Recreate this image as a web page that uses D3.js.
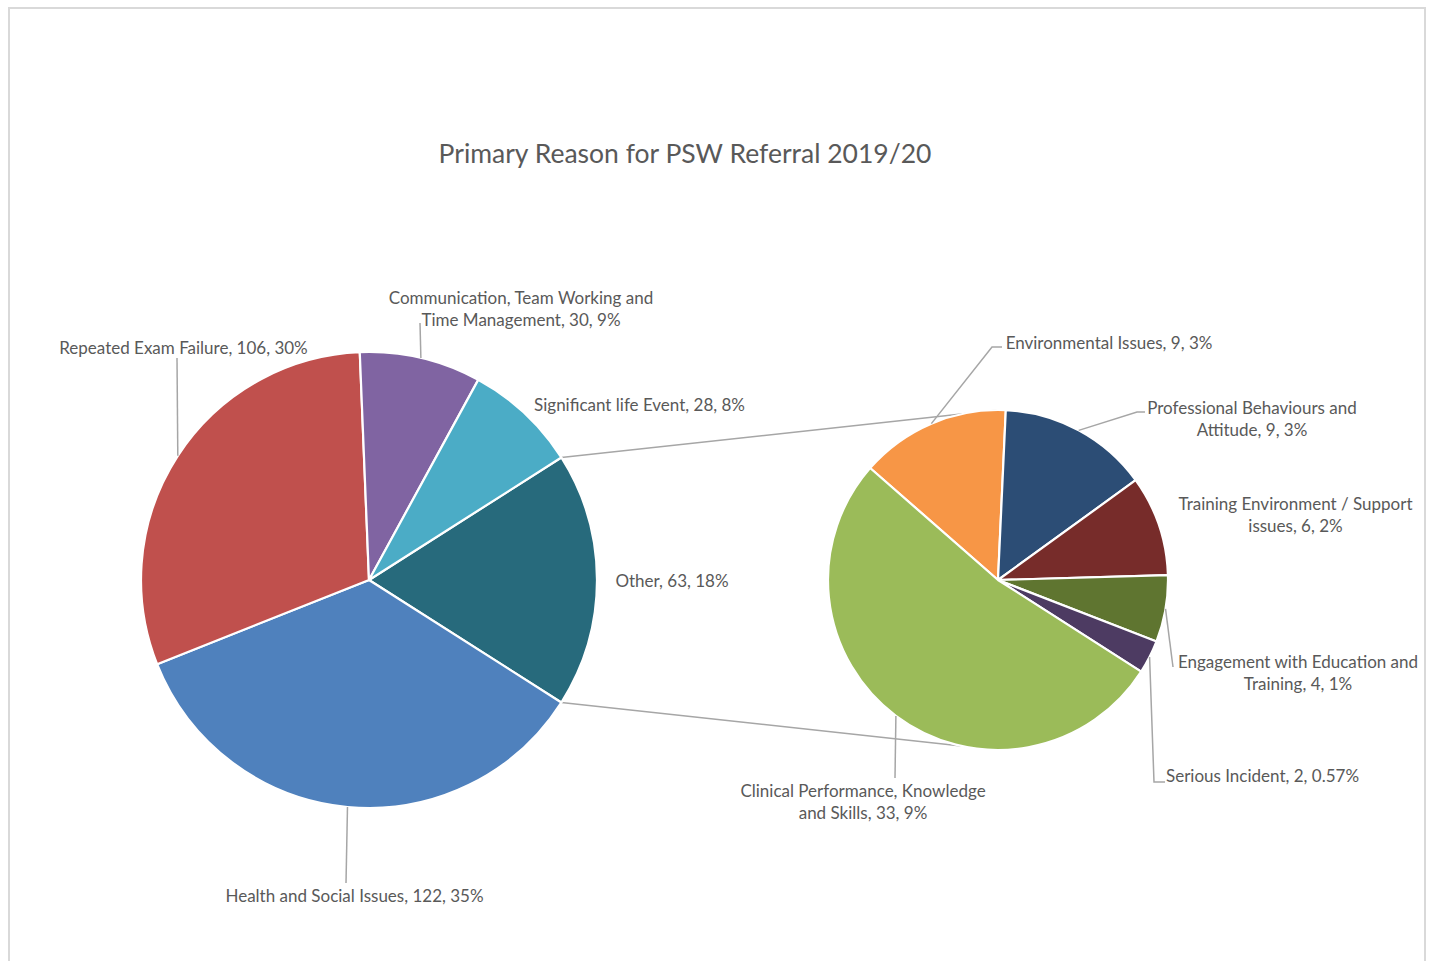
<!DOCTYPE html>
<html>
<head>
<meta charset="utf-8">
<script src="https://cdn.jsdelivr.net/npm/d3@7"></script>
<style>
  body { margin: 0; background: #fff; }
  svg text { font-family: Lato, "Open Sans", sans-serif; fill: #595959; }
</style>
</head>
<body>
<svg id="chart" width="1431" height="961"></svg>
<script>
// ---- data ----
const title = "Primary Reason for PSW Referral 2019/20";

// Primary pie (clockwise, starting with the split-off "Other" slice)
const mainNames = ["Other", "Health and Social Issues", "Repeated Exam Failure",
  "Communication, Team Working and Time Management", "Significant life Event"];
const mainValues = [63, 122, 106, 30, 28];
const mainColors = ["#276A7C", "#4F81BD", "#C0504D", "#8064A2", "#4BACC6"];

// Breakdown of "Other" (secondary pie, clockwise)
const subNames = ["Environmental Issues", "Professional Behaviours and Attitude",
  "Training Environment / Support issues", "Engagement with Education and Training",
  "Serious Incident", "Clinical Performance, Knowledge and Skills"];
const subValues = [9, 9, 6, 4, 2, 33];
const subColors = ["#F79646", "#2C4D75", "#772C2A", "#5F7530", "#4D3B62", "#9BBB59"];

// ---- layout ----
const W = 1431, H = 961;
const mainC = { x: 369, y: 580, r: 228 };
const subC = { x: 998, y: 580, r: 170 };
const subRotation = -48.8 * Math.PI / 180;
const lineGap = 22.5;
const labelSize = "17px";

// label placement: centre x/y, words on first line (if wrapped), decimals, leader bend points
const labelLayout = {
  "Repeated Exam Failure": { x: 183.5, y: 347, leader: [[177, 358]] },
  "Communication, Team Working and Time Management": { x: 521, y: 297, wrap: 4, leader: [[420, 323]] },
  "Significant life Event": { x: 639.5, y: 404 },
  "Other": { x: 672, y: 580 },
  "Health and Social Issues": { x: 354.5, y: 895, leader: [[346, 883]] },
  "Environmental Issues": { x: 1109, y: 342, leader: [[992, 347], [1002, 347]] },
  "Professional Behaviours and Attitude": { x: 1252, y: 407, wrap: 3, leader: [[1137, 412], [1145, 412]] },
  "Training Environment / Support issues": { x: 1295.5, y: 503, wrap: 4 },
  "Engagement with Education and Training": { x: 1298, y: 661, wrap: 4, leader: [[1173, 667]] },
  "Serious Incident": { x: 1262.5, y: 775, decimals: 2, leader: [[1154, 782], [1165, 782]] },
  "Clinical Performance, Knowledge and Skills": { x: 863, y: 790, wrap: 3, leader: [[895, 778]] }
};

const total = d3.sum(mainValues);
const svg = d3.select("#chart");

// chart frame
svg.append("rect")
  .attr("x", 9).attr("y", 8).attr("width", 1416).attr("height", H + 20)
  .attr("fill", "#fff").attr("stroke", "#d9d9d9").attr("stroke-width", 2);

// title
svg.append("text")
  .attr("x", 685).attr("y", 153)
  .attr("text-anchor", "middle").attr("dominant-baseline", "central")
  .style("font-size", "26.5px")
  .text(title);

const pt = (c, a, r) => [c.x + r * Math.sin(a), c.y - r * Math.cos(a)];

// primary pie: "Other" centred on 3 o'clock
const otherShare = mainValues[0] / total;
const mainStart = Math.PI / 2 - otherShare * Math.PI;
const mainArcs = d3.pie().sort(null).value(d => d)
  .startAngle(mainStart).endAngle(mainStart + 2 * Math.PI)(mainValues);

const subArcs = d3.pie().sort(null).value(d => d)
  .startAngle(subRotation).endAngle(subRotation + 2 * Math.PI)(subValues);

// connector lines between "Other" and the secondary pie (drawn beneath the pies)
const other = mainArcs[0];
const connectors = [
  [pt(mainC, other.startAngle, mainC.r), [subC.x, subC.y - subC.r]],
  [pt(mainC, other.endAngle, mainC.r), [subC.x, subC.y + subC.r]]
];
svg.append("g").selectAll("line").data(connectors).join("line")
  .attr("x1", d => d[0][0]).attr("y1", d => d[0][1])
  .attr("x2", d => d[1][0]).attr("y2", d => d[1][1])
  .attr("stroke", "#a6a6a6").attr("stroke-width", 1.5);

function drawPie(c, arcs, colors) {
  const arc = d3.arc().innerRadius(0).outerRadius(c.r);
  svg.append("g").attr("transform", `translate(${c.x},${c.y})`)
    .selectAll("path").data(arcs).join("path")
    .attr("d", arc)
    .attr("fill", (d, i) => colors[i])
    .attr("stroke", "#fff").attr("stroke-width", 2.2).attr("stroke-linejoin", "round");
}
drawPie(mainC, mainArcs, mainColors);
drawPie(subC, subArcs, subColors);

// labels + leader lines
const leaderG = svg.append("g");
const labelG = svg.append("g");

function addLabels(c, arcs, names, values) {
  arcs.forEach((a, i) => {
    const name = names[i];
    const lay = labelLayout[name];
    const share = values[i] / total;
    const pct = d3.format(`.${lay.decimals || 0}%`)(share);
    const full = `${name}, ${values[i]}, ${pct}`;
    let lines = [full];
    if (lay.wrap) {
      const words = full.split(" ");
      lines = [words.slice(0, lay.wrap).join(" "), words.slice(lay.wrap).join(" ")];
    }
    const t = labelG.append("text")
      .attr("text-anchor", "middle")
      .style("font-size", labelSize);
    lines.forEach((ln, k) => {
      t.append("tspan").attr("x", lay.x).attr("y", lay.y + k * lineGap)
        .attr("dominant-baseline", "central").text(ln);
    });
    if (lay.leader) {
      const mid = (a.startAngle + a.endAngle) / 2;
      const pts = [pt(c, mid, c.r), ...lay.leader];
      leaderG.append("path")
        .attr("d", d3.line()(pts))
        .attr("fill", "none").attr("stroke", "#a6a6a6").attr("stroke-width", 1.5);
    }
  });
}
addLabels(mainC, mainArcs, mainNames, mainValues);
addLabels(subC, subArcs, subNames, subValues);
</script>
</body>
</html>
